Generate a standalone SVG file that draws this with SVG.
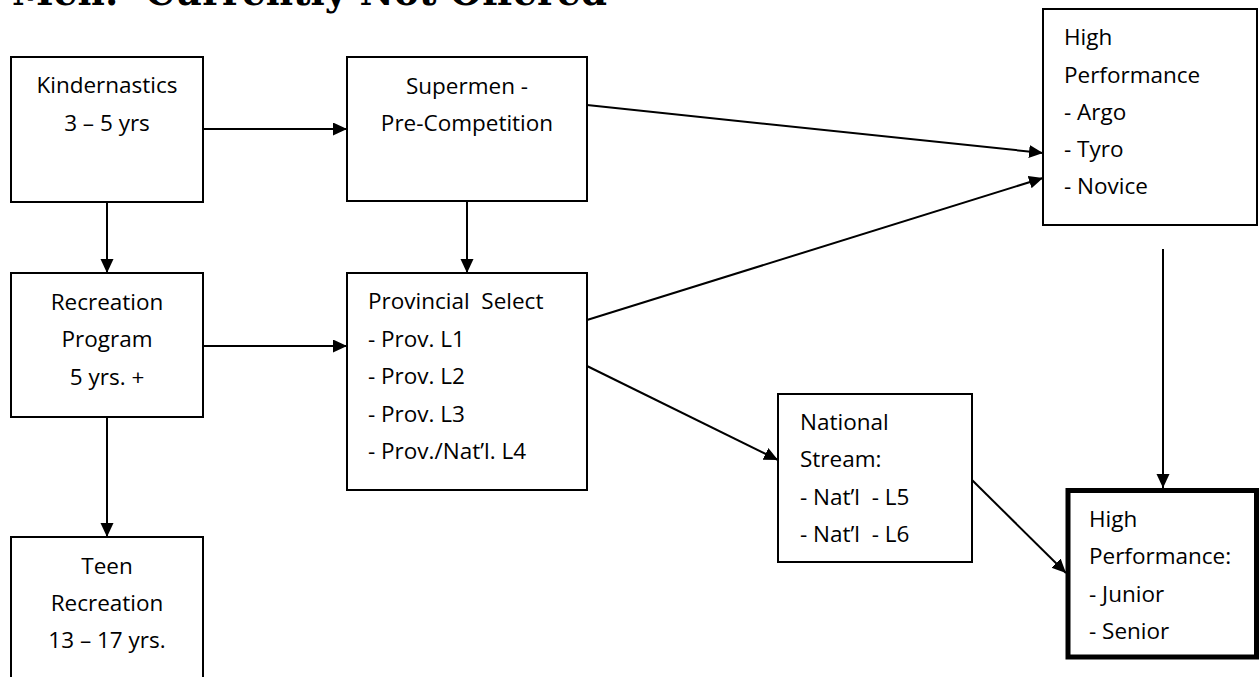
<svg xmlns="http://www.w3.org/2000/svg" width="1259" height="677" viewBox="0 0 1259 677">
<style>
.box{fill:#fff;stroke:#000;stroke-width:2}
.thick{fill:#fff;stroke:#000;stroke-width:5}
.t{font-family:"Open Sans","Noto Sans","Liberation Sans",sans-serif;font-size:22.5px;fill:#000;white-space:pre}
.c{text-anchor:middle}
.conn line{stroke:#000;stroke-width:2;marker-end:url(#ah)}
.title{font-family:"DejaVu Serif","Liberation Serif",serif;font-weight:bold;font-size:40px;fill:#000;white-space:pre}
</style>
<defs>
<marker id="ah" markerWidth="16" markerHeight="14" refX="14" refY="6.5" orient="auto" markerUnits="userSpaceOnUse">
<path d="M0,0 L14,6.5 L0,13 z" fill="#000"/>
</marker>
</defs>
<rect width="1259" height="677" fill="#fff"/>
<text class="title" x="12" y="5" textLength="595" lengthAdjust="spacingAndGlyphs">Men:  Currently Not Offered</text>
<g id="connectors" class="conn">
<line x1="203" y1="129" x2="347" y2="129"/>
<line x1="107" y1="202" x2="107" y2="273"/>
<line x1="467" y1="201" x2="467" y2="273"/>
<line x1="203" y1="346" x2="347" y2="346"/>
<line x1="107" y1="417" x2="107" y2="537"/>
<line x1="587" y1="105" x2="1043" y2="153"/>
<line x1="587" y1="320" x2="1043" y2="178"/>
<line x1="587" y1="366" x2="778" y2="460"/>
<line x1="972" y1="480" x2="1066" y2="573"/>
<line x1="1163" y1="249" x2="1163" y2="488"/>
</g>
<g id="kindernastics">
<rect class="box" x="11" y="57" width="192" height="145"/>
<text class="t c" x="107" y="93">Kindernastics</text>
<text class="t c" x="107" y="131">3 – 5 yrs</text>
</g>
<g id="supermen">
<rect class="box" x="347" y="57" width="240" height="144"/>
<text class="t c" x="467" y="94">Supermen -</text>
<text class="t c" x="467" y="131">Pre-Competition</text>
</g>
<g id="high-performance">
<rect class="box" x="1043" y="9" width="214" height="216"/>
<text class="t" x="1064" y="45">High</text>
<text class="t" x="1064" y="83">Performance</text>
<text class="t" x="1064" y="120">- Argo</text>
<text class="t" x="1064" y="157">- Tyro</text>
<text class="t" x="1064" y="194">- Novice</text>
</g>
<g id="recreation">
<rect class="box" x="11" y="273" width="192" height="144"/>
<text class="t c" x="107" y="310">Recreation</text>
<text class="t c" x="107" y="347">Program</text>
<text class="t c" x="107" y="385">5 yrs. +</text>
</g>
<g id="provincial">
<rect class="box" x="347" y="273" width="240" height="217"/>
<text class="t" x="368" y="309">Provincial  Select</text>
<text class="t" x="368" y="347">- Prov. L1</text>
<text class="t" x="368" y="384">- Prov. L2</text>
<text class="t" x="368" y="422">- Prov. L3</text>
<text class="t" x="368" y="459">- Prov./Nat’l. L4</text>
</g>
<g id="national">
<rect class="box" x="778" y="394" width="194" height="168"/>
<text class="t" x="800" y="430">National</text>
<text class="t" x="800" y="467">Stream:</text>
<text class="t" x="800" y="505">- Nat’l  - L5</text>
<text class="t" x="800" y="542">- Nat’l  - L6</text>
</g>
<g id="high-performance-2">
<rect class="thick" x="1068" y="490.5" width="188.5" height="166.5"/>
<text class="t" x="1089" y="527">High</text>
<text class="t" x="1089" y="564">Performance:</text>
<text class="t" x="1089" y="602">- Junior</text>
<text class="t" x="1089" y="639">- Senior</text>
</g>
<g id="teen">
<rect class="box" x="11" y="537" width="192" height="160"/>
<text class="t c" x="107" y="574">Teen</text>
<text class="t c" x="107" y="611">Recreation</text>
<text class="t c" x="107" y="648">13 – 17 yrs.</text>
</g>
</svg>
